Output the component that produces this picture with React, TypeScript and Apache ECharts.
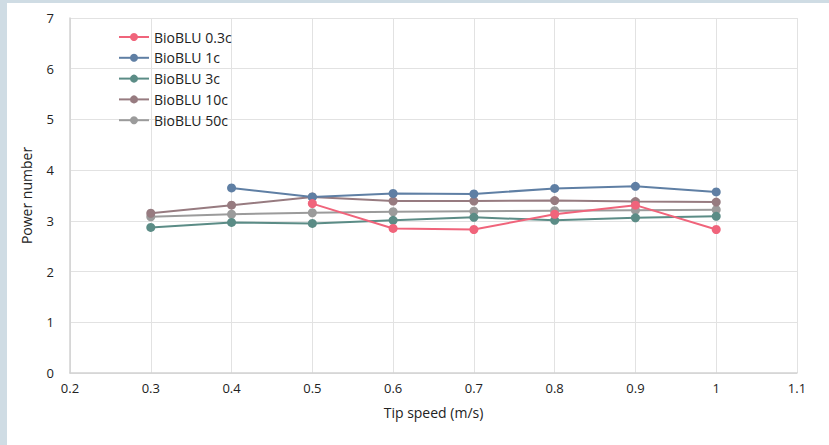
import React, { useEffect, useRef } from "react";
import * as echarts from "echarts";

const tipSpeeds = [0.3, 0.4, 0.5, 0.6, 0.7, 0.8, 0.9, 1.0];
const seriesNames = ["BioBLU 0.3c", "BioBLU 1c", "BioBLU 3c", "BioBLU 10c", "BioBLU 50c"];
const bioblu03c = [null, null, 3.34, 2.85, 2.83, 3.13, 3.31, 2.83];
const bioblu1c = [null, 3.65, 3.47, 3.54, 3.53, 3.64, 3.68, 3.57];
const bioblu3c = [2.87, 2.97, 2.95, 3.01, 3.07, 3.01, 3.06, 3.09];
const bioblu10c = [3.15, 3.31, 3.47, 3.39, 3.39, 3.4, 3.38, 3.37];
const bioblu50c = [3.08, 3.13, 3.16, 3.18, 3.19, 3.2, 3.21, 3.22];
const colors = ["#f0647b", "#5f7fa4", "#5b8c86", "#977b80", "#9b9b9b"];

export default function App() {
  const ref = useRef<HTMLDivElement>(null);
  useEffect(() => {
    document.body.style.margin = "0";
    const chart = echarts.init(ref.current!, null, { renderer: "svg" });
    const all = [bioblu03c, bioblu1c, bioblu3c, bioblu10c, bioblu50c];
    const font = "'Open Sans', 'Noto Sans', sans-serif";
    chart.setOption({
      animation: false,
      backgroundColor: "#ffffff",
      textStyle: { fontFamily: font },
      graphic: [
        { type: "rect", left: 0, top: 0, shape: { width: 7, height: 445 }, style: { fill: "#cfdce4" } },
        { type: "rect", left: 0, top: 0, shape: { width: 829, height: 3 }, style: { fill: "#cfdce4" } },
      ],
      grid: { left: 70, right: 32, top: 18, bottom: 72 },
      legend: {
        orient: "vertical",
        left: 113,
        top: 25,
        itemWidth: 30,
        itemHeight: 10,
        itemGap: 6.8,
        textStyle: { fontSize: 14, color: "#222", fontFamily: font },
        data: seriesNames,
      },
      xAxis: {
        type: "value",
        min: 0.2,
        max: 1.1,
        interval: 0.1,
        name: "Tip speed (m/s)",
        nameLocation: "middle",
        nameGap: 32,
        nameTextStyle: { fontSize: 14, color: "#222" },
        axisLine: { show: true, lineStyle: { color: "#d2d2d2", width: 1.5 } },
        axisTick: { show: false },
        axisLabel: {
          color: "#222",
          fontSize: 13,
          margin: 8,
          formatter: (v: number) => String(Math.round(v * 10) / 10),
        },
        splitLine: { show: true, lineStyle: { color: "#e2e2e2", width: 1 } },
      },
      yAxis: {
        type: "value",
        min: 0,
        max: 7,
        interval: 1,
        name: "Power number",
        nameLocation: "middle",
        nameGap: 37,
        nameTextStyle: { fontSize: 14, color: "#222" },
        axisLine: { show: true, lineStyle: { color: "#d2d2d2", width: 1.5 } },
        axisTick: { show: false },
        axisLabel: { color: "#222", fontSize: 13, margin: 16 },
        splitLine: { show: true, lineStyle: { color: "#e2e2e2", width: 1 } },
      },
      series: all.map((vals, i) => ({
        name: seriesNames[i],
        type: "line",
        data: tipSpeeds.map((x, j) => (vals[j] == null ? null : [x, vals[j]])).filter((d) => d !== null),
        symbol: "circle",
        symbolSize: 9,
        showSymbol: true,
        lineStyle: { width: 2, color: colors[i] },
        itemStyle: { color: colors[i] },
        z: 10 - i,
      })),
    });
    return () => chart.dispose();
  }, []);
  return <div ref={ref} style={{ width: 829, height: 445 }} />;
}
